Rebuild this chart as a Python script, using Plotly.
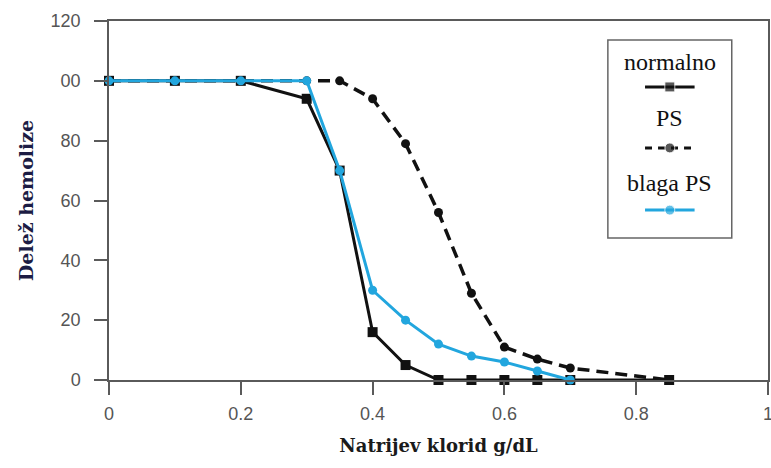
import plotly.graph_objects as go

# ---- data ----
x_normalno = [0, 0.1, 0.2, 0.3, 0.35, 0.4, 0.45, 0.5, 0.55, 0.6, 0.65, 0.7, 0.85]
y_normalno = [100, 100, 100, 94, 70, 16, 5, 0, 0, 0, 0, 0, 0]

x_ps = [0, 0.1, 0.2, 0.3, 0.35, 0.4, 0.45, 0.5, 0.55, 0.6, 0.65, 0.7, 0.85]
y_ps = [100, 100, 100, 100, 100, 94, 79, 56, 29, 11, 7, 4, 0]

x_blaga = [0, 0.1, 0.2, 0.3, 0.35, 0.4, 0.45, 0.5, 0.55, 0.6, 0.65, 0.7]
y_blaga = [100, 100, 100, 100, 70, 30, 20, 12, 8, 6, 3, 0]

x_ticks = [0, 0.2, 0.4, 0.6, 0.8, 1]
x_ticktext = ["0", "0.2", "0.4", "0.6", "0.8", "1"]
y_ticks = [0, 20, 40, 60, 80, 100, 120]
y_ticktext = ["0", "20", "40", "60", "80", "00", "120"]

legend_names = ["normalno", "PS", "blaga PS"]

BLACK = "#111111"
BLUE = "#22a6de"
AXIS = "#5a5a5a"
SANS = "Liberation Sans"
SERIF = "Liberation Serif"
WIDE_SERIF = "DejaVu Serif"

fig = go.Figure()

fig.add_trace(go.Scatter(x=x_normalno, y=y_normalno, mode="lines+markers",
                         line=dict(color=BLACK, width=3),
                         marker=dict(symbol="square", size=10, color=BLACK),
                         cliponaxis=False, showlegend=False))
fig.add_trace(go.Scatter(x=x_ps, y=y_ps, mode="lines+markers",
                         line=dict(color=BLACK, width=3.5, dash="12px,7px"),
                         marker=dict(symbol="circle", size=9, color=BLACK),
                         cliponaxis=False, showlegend=False))
fig.add_trace(go.Scatter(x=x_blaga, y=y_blaga, mode="lines+markers",
                         line=dict(color=BLUE, width=3),
                         marker=dict(symbol="circle", size=9, color=BLUE),
                         cliponaxis=False, showlegend=False))

# ---- custom legend on an overlay axis ----
leg_samples = [
    dict(y=0.763, dash="solid", symbol="square", color=BLACK),
    dict(y=0.455, dash="7px,6px", symbol="circle", color=BLACK),
    dict(y=0.141, dash="solid", symbol="circle", color=BLUE),
]
leg_text_y = [0.889, 0.606, 0.278]
for s in leg_samples:
    fig.add_trace(go.Scatter(x=[0.30, 0.5, 0.70], y=[s["y"]] * 3, mode="lines+markers",
                             xaxis="x2", yaxis="y2",
                             line=dict(color=s["color"], width=3, dash=s["dash"]),
                             marker=dict(symbol=s["symbol"], size=[0, 10, 0], color=s["color"]),
                             showlegend=False, hoverinfo="skip"))
for name, ty in zip(legend_names, leg_text_y):
    fig.add_annotation(x=0.5, y=ty, xref="x2", yref="y2", text=name, showarrow=False,
                       font=dict(family=SERIF, size=24, color="#111111"))

fig.add_shape(type="rect", xref="paper", yref="paper",
              x0=0.757, x1=0.945, y0=0.3955, y1=0.947,
              line=dict(color="#666666", width=1.5), fillcolor="rgba(0,0,0,0)")

fig.update_layout(
    width=771, height=468,
    margin=dict(l=109, r=3, t=21, b=88, autoexpand=False),
    plot_bgcolor="white", paper_bgcolor="white",
    xaxis=dict(range=[0, 1], tickvals=x_ticks, ticktext=x_ticktext,
               showgrid=False, zeroline=False, showline=True, mirror=True,
               linecolor=AXIS, linewidth=1.5, ticks="outside", ticklen=13,
               tickcolor=AXIS, tickwidth=1.5, ticklabelstandoff=4,
               ticklabeloverflow="allow", automargin=False,
               tickfont=dict(family=SANS, size=18, color="#555555"),
               title=dict(text="<b>Natrijev klorid g/dL</b>", standoff=16,
                          font=dict(family=WIDE_SERIF, size=18, color="#1a1a1a"))),
    yaxis=dict(range=[0, 120], tickvals=y_ticks, ticktext=y_ticktext,
               showgrid=False, zeroline=False, showline=True, mirror=True,
               linecolor=AXIS, linewidth=1.5, ticks="outside", ticklen=13,
               tickcolor=AXIS, tickwidth=1.5, ticklabelstandoff=10, automargin=False,
               tickfont=dict(family=SANS, size=18, color="#555555"),
               title=dict(text="<b>Delež hemolize</b>", standoff=12,
                          font=dict(family=WIDE_SERIF, size=19, color="#1c1c44"))),
    xaxis2=dict(domain=[0.757, 0.945], range=[0, 1], visible=False, anchor="y2"),
    yaxis2=dict(domain=[0.3955, 0.947], range=[0, 1], visible=False, anchor="x2"),
)

fig.write_html("out.html")
